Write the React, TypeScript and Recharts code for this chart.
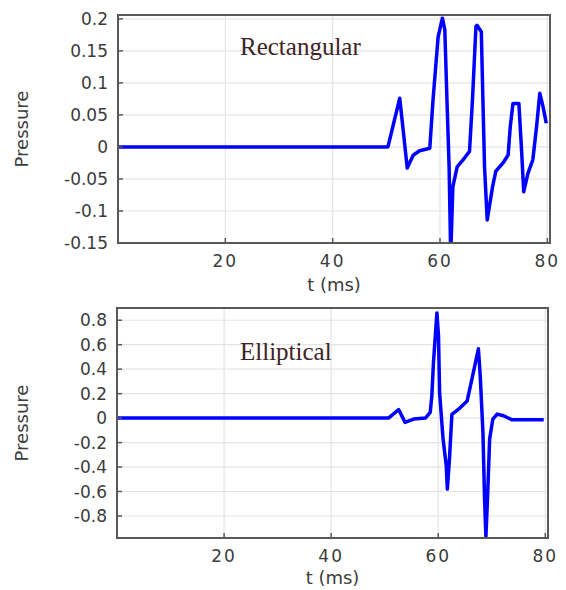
import React from 'react';
import { LineChart, Line, XAxis, YAxis, CartesianGrid, ReferenceArea } from 'recharts';

// time axis (ms) shared by both panels
const timeTicks = [20, 40, 60, 80];
const timeDomain: [number, number] = [0, 80.5];

// rectangular panel
const rectTime = [
  0, 50.3, 52.5, 53.9, 55.0, 56.2, 58.1, 58.7, 59.65, 60.45, 60.9, 61.3, 61.7, 62.0,
  62.4, 63.2, 64.6, 65.5, 66.05, 66.7, 66.9, 67.7, 68.0, 68.3, 68.8, 69.8, 70.4, 71.75,
  72.7, 73.1, 73.6, 74.7, 75.2, 75.6, 76.4, 77.3, 78.0, 78.6, 79.2, 79.8
];
const rectPressure = [
  0, 0, 0.076, -0.033, -0.013, -0.006, -0.002, 0.073, 0.172, 0.201, 0.183, 0.073, -0.031, -0.17,
  -0.062, -0.031, -0.017, -0.007, 0.073, 0.188, 0.19, 0.18, 0.073, -0.031, -0.114, -0.062, -0.038, -0.025,
  -0.0125, 0.032, 0.068, 0.068, -0.005, -0.07, -0.041, -0.02, 0.032, 0.084, 0.063, 0.037
];
const rectTicks = [0.2, 0.15, 0.1, 0.05, 0, -0.05, -0.1, -0.15];

// elliptical panel
const ellTime = [
  0, 50.7, 52.6, 53.8, 55.4, 57.6, 58.5, 58.8, 59.1, 59.75, 60.05, 60.25, 60.9, 61.5, 61.7, 62.1,
  62.55, 63.8, 65.4, 66.3, 67.5, 67.85, 68.35, 68.65, 68.9, 69.2, 69.6, 70.2, 71.0, 72.2, 73.8, 79.7
];
const ellPressure = [
  0, 0, 0.07, -0.035, -0.008, 0, 0.046, 0.18, 0.45, 0.86, 0.67, 0.21, -0.17, -0.39, -0.58, -0.33,
  0.03, 0.073, 0.14, 0.32, 0.567, 0.34, -0.12, -0.66, -0.97, -0.66, -0.17, -0.008, 0.033, 0.019, -0.014, -0.014
];
const ellTicks = [0.8, 0.6, 0.4, 0.2, 0, -0.2, -0.4, -0.6, -0.8];

const toRows = (t: number[], p: number[]) => t.map((v, i) => ({ t: v, p: p[i] }));

const FONT = '"DejaVu Sans", sans-serif';
const tickText = { fill: '#3c3c3c', fontSize: 17, fontFamily: FONT };
const xTickText = { ...tickText, letterSpacing: 2 };
const frame = { stroke: '#595959', strokeWidth: 2 };
const tickMark = { stroke: '#595959', strokeWidth: 1.5 };

interface PanelProps {
  title: string;
  titleY: number;
  rows: { t: number; p: number }[];
  yDomain: [number, number];
  yTicks: number[];
  margin: { top: number; right: number; left: number; bottom: number };
  yAxisWidth: number;
  xLabelOffset: number;
}

const Panel: React.FC<PanelProps> = ({ title, titleY, rows, yDomain, yTicks, margin, yAxisWidth, xLabelOffset }) => (
  <LineChart width={566} height={295} data={rows} margin={margin}>
    <CartesianGrid stroke="#e4e4e4" strokeWidth={1.2} />
    <XAxis
      type="number"
      dataKey="t"
      domain={timeDomain}
      ticks={timeTicks}
      interval={0}
      allowDataOverflow
      height={52}
      tickSize={-5}
      tickMargin={17}
      tick={xTickText}
      axisLine={frame}
      tickLine={tickMark}
      label={{ value: 't (ms)', position: 'insideBottom', offset: xLabelOffset, fill: '#3c3c3c', fontSize: 18, fontFamily: FONT }}
    />
    <XAxis
      xAxisId="top"
      orientation="top"
      type="number"
      dataKey="t"
      domain={timeDomain}
      ticks={timeTicks}
      interval={0}
      allowDataOverflow
      height={1}
      tickSize={-5}
      tick={false}
      axisLine={frame}
      tickLine={tickMark}
    />
    <YAxis
      type="number"
      domain={yDomain}
      ticks={yTicks}
      interval={0}
      allowDataOverflow
      width={yAxisWidth}
      tickSize={-5}
      tickMargin={15}
      tick={tickText}
      axisLine={frame}
      tickLine={tickMark}
      label={{ value: 'Pressure', angle: -90, position: 'insideLeft', offset: 22, fill: '#3c3c3c', fontSize: 18, fontFamily: FONT, style: { textAnchor: 'middle' } }}
    />
    <YAxis
      yAxisId="right"
      orientation="right"
      type="number"
      domain={yDomain}
      ticks={yTicks}
      interval={0}
      allowDataOverflow
      width={1}
      tickSize={-5}
      tick={false}
      axisLine={frame}
      tickLine={tickMark}
    />
    <ReferenceArea
      x1={timeDomain[0]}
      x2={timeDomain[1]}
      y1={yDomain[0]}
      y2={yDomain[1]}
      fill="none"
      fillOpacity={0}
      stroke="#595959"
      strokeWidth={2}
      ifOverflow="visible"
    />
    <text x={240} y={titleY} fontFamily='"Liberation Serif", "Times New Roman", serif' fontSize={25} fill="#402424">
      {title}
    </text>
    <Line
      type="linear"
      dataKey="p"
      stroke="#0000ff"
      strokeWidth={3.5}
      strokeLinejoin="round"
      dot={false}
      isAnimationActive={false}
    />
  </LineChart>
);

export default function App() {
  return (
    <div style={{ position: 'absolute', left: 0, top: 0, width: 566, height: 590, background: '#fff' }}>
      <Panel
        title="Rectangular"
        titleY={55}
        rows={toRows(rectTime, rectPressure)}
        yDomain={[-0.15, 0.206]}
        yTicks={rectTicks}
        margin={{ top: 14, right: 15, left: 0, bottom: 0 }}
        yAxisWidth={118}
        xLabelOffset={4}
      />
      <Panel
        title="Elliptical"
        titleY={65}
        rows={toRows(ellTime, ellPressure)}
        yDomain={[-0.98, 0.9]}
        yTicks={ellTicks}
        margin={{ top: 12, right: 17, left: 0, bottom: 0 }}
        yAxisWidth={117}
        xLabelOffset={6}
      />
    </div>
  );
}
